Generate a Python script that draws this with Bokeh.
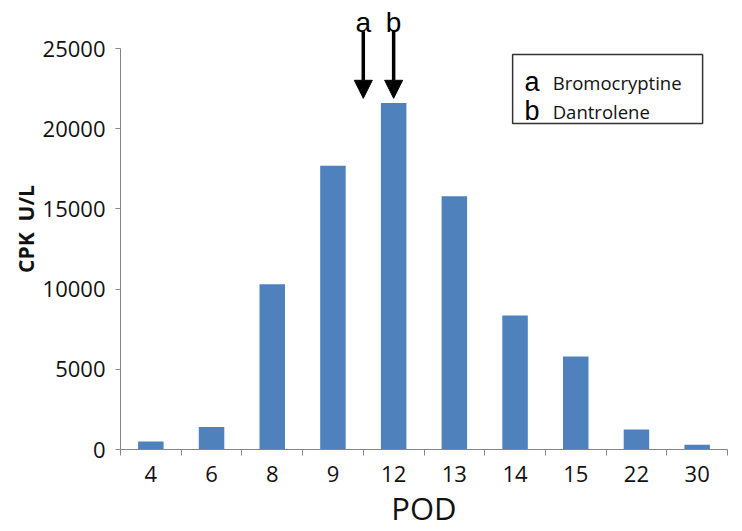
from bokeh.plotting import figure
from bokeh.models import (Range1d, LinearAxis, FixedTicker,
                          ColumnDataSource, Arrow, NormalHead, BoxAnnotation, Label)
from bokeh.embed import file_html
from bokeh.resources import INLINE

# ---- data ----
pod_days = ["4", "6", "8", "9", "12", "13", "14", "15", "22", "30"]
cpk_values = [500, 1400, 10300, 17700, 21600, 15800, 8350, 5800, 1250, 300]
y_ticks = [0, 5000, 10000, 15000, 20000, 25000]
drug_marks = ["a", "b"]
drug_names = ["Bromocryptine", "Dantrolene"]
drug_day = ["12", "12"]          # day on which the drug was started
drug_slot_offset = [-0.5, 0.0]   # a: at the start of day 12 slot, b: centre of day 12

BAR = "#4F81BD"
AXIS = "#868686"

n = len(pod_days)
slot_centres = [i + 0.5 for i in range(n)]
slot_edges = list(range(n + 1))

p = figure(width=734, height=531,
           x_range=Range1d(0, n),
           y_range=Range1d(0, 27500),
           output_backend="svg", toolbar_location=None,
           x_axis_location=None, y_axis_location="left",
           min_border_left=120, min_border_right=7,
           min_border_top=8, min_border_bottom=0)
p.outline_line_color = None
p.grid.visible = False
p.background_fill_color = "white"
p.border_fill_color = "white"

src = ColumnDataSource(dict(x=slot_centres, pod=pod_days, cpk=cpk_values))
p.vbar(x="x", top="cpk", width=0.42, source=src, fill_color=BAR, line_color=None)

# ---- y axis ----
ya = p.yaxis[0]
ya.ticker = FixedTicker(ticks=y_ticks)
ya.bounds = (0, 25000)
ya.axis_line_color = AXIS
ya.major_tick_line_color = AXIS
ya.major_tick_in = 0
ya.major_tick_out = 5
ya.minor_tick_out = 0
ya.minor_tick_in = 0
ya.major_label_standoff = 10
ya.major_label_text_font = "Open Sans"
ya.major_label_text_font_size = "22px"
ya.major_label_text_color = "#111111"
ya.axis_label = "CPK\u00a0\u00a0U/L"
ya.axis_label_text_font = "Open Sans"
ya.axis_label_text_font_style = "bold"
ya.axis_label_text_font_size = "21px"
ya.axis_label_text_color = "#111111"
ya.axis_label_standoff = 0

# ---- x axis: labels at slot centres, tick marks at slot edges ----
xa = LinearAxis(ticker=FixedTicker(ticks=slot_centres, minor_ticks=slot_edges),
                major_label_overrides={c: d for c, d in zip(slot_centres, pod_days)},
                axis_line_color=AXIS,
                major_tick_line_color=None, major_tick_in=0, major_tick_out=0,
                minor_tick_line_color=AXIS, minor_tick_in=0, minor_tick_out=6,
                major_label_standoff=10,
                major_label_text_font="Open Sans",
                major_label_text_font_size="22px",
                major_label_text_color="#111111",
                axis_label="POD",
                axis_label_text_font="Open Sans",
                axis_label_text_font_style="normal",
                axis_label_text_font_size="31px",
                axis_label_text_color="#111111",
                axis_label_standoff=2)
p.add_layout(xa, "below")

# ---- drug arrows ----
for mark, day, off in zip(drug_marks, drug_day, drug_slot_offset):
    i = pod_days.index(day)
    xpos = slot_centres[i] + off
    tip = cpk_values[i] + 300
    p.add_layout(Arrow(x_start=xpos, y_start=26080, x_end=xpos, y_end=tip,
                       line_color="black", line_width=3.5,
                       end=NormalHead(size=18, fill_color="black", line_color="black")))
    p.add_layout(Label(x=xpos, y=26600, text=mark, text_font="Liberation Sans",
                       text_font_size="28px", text_align="center",
                       text_baseline="alphabetic", text_color="black"))

# ---- legend box ----
p.add_layout(BoxAnnotation(left=6.46, right=9.59, top=24630, bottom=20330,
                           fill_color="white", fill_alpha=1.0,
                           line_color="#333333", line_width=1.5, line_alpha=1.0))
legend_rows_y = [22890, 21100]
for mark, name, yy in zip(drug_marks, drug_names, legend_rows_y):
    p.add_layout(Label(x=6.78, y=yy, text=mark, text_font="Liberation Sans",
                       text_font_size="27px", text_align="center",
                       text_baseline="alphabetic", text_color="black"))
    p.add_layout(Label(x=7.12, y=yy, text=name, text_font="Open Sans",
                       text_font_size="18.5px", text_align="left",
                       text_baseline="alphabetic", text_color="#111111"))

open("out.html", "w").write(file_html(p, INLINE))
